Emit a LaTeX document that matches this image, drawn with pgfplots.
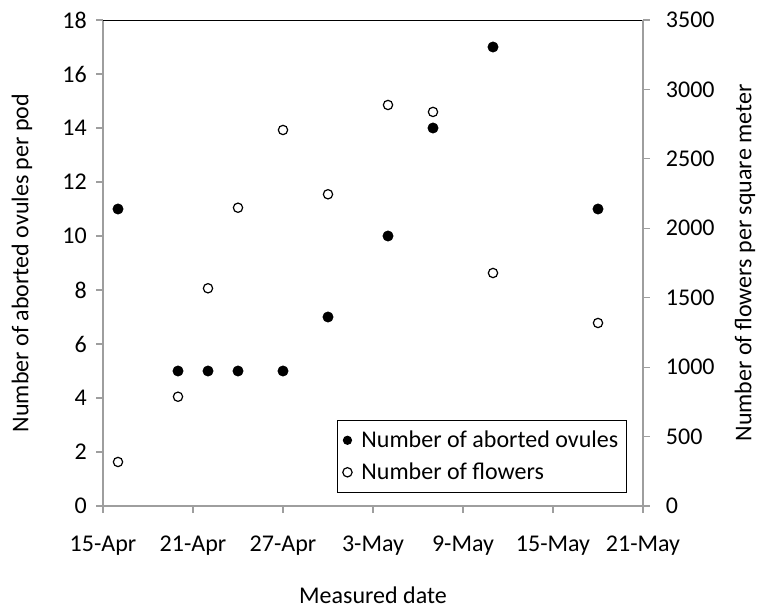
\documentclass[border=0pt]{standalone}
\usepackage{fontspec}
\setmainfont{Carlito}
\usepackage{pgfplots}
\pgfplotsset{compat=1.18}
\begin{document}
\begin{tikzpicture}
\useasboundingbox (-77.25pt,-76.5pt) rectangle (491.25pt,379.5pt);
\pgfplotsset{
  every axis/.append style={font=\fontsize{18}{21}\selectfont},
  /pgf/number format/assume math mode=true,
  /pgf/number format/1000 sep={},
}
\begin{axis}[
  scale only axis, width=405pt, height=364.5pt,
  at={(0,0)}, anchor=south west,
  xmin=0, xmax=36, ymin=0, ymax=18,
  axis x line*=bottom, axis y line*=left,
  axis line style={draw=black!38, line width=0.9pt, -},
  xtick={0,6,...,36},
  xticklabels={15-Apr,21-Apr,27-Apr,3-May,9-May,15-May,21-May},
  ytick={0,2,...,18},
  tick align=outside, major tick length=5pt,
  tick style={draw=black!38, line width=0.8pt},
  xticklabel style={anchor=north, inner sep=0pt},
  xticklabel shift=17pt,
  yticklabel style={anchor=east, inner sep=0pt},
  yticklabel shift=7pt,
  xlabel={Measured date},
  ylabel={Number of aborted ovules per pod},
  xlabel style={at={(axis description cs:0.5,-0.183)}, anchor=center},
  ylabel style={at={(axis description cs:-0.15,0.5)}, anchor=center},
]
\addplot[only marks, mark=*, black, mark size=3.9pt] coordinates {
  (1,11) (5,5) (7,5) (9,5) (12,5) (15,7) (19,10) (22,14) (26,17) (33,11)
};
\draw[black, line width=0.9pt] (rel axis cs:0,1) -- (rel axis cs:1,1);
\end{axis}
\begin{axis}[
  scale only axis, width=405pt, height=364.5pt,
  at={(0,0)}, anchor=south west,
  xmin=0, xmax=36, ymin=0, ymax=3500,
  axis x line=none, axis y line*=right,
  axis line style={draw=black!38, line width=0.9pt, -},
  ytick={0,500,...,3500},
  tick align=outside, major tick length=5pt,
  tick style={draw=black!38, line width=0.8pt},
  yticklabel style={anchor=west, inner sep=0pt},
  yticklabel shift=12pt,
  ylabel={Number of flowers per square meter},
  ylabel style={at={(axis description cs:1.189,0.5)}, anchor=center},
  legend style={at={(axis description cs:0.970,0.027)}, anchor=south east,
    draw=black, line width=0.9pt, inner xsep=4pt, inner ysep=6pt, row sep=6pt,
    font=\fontsize{18}{21}\selectfont},
  legend cell align=left,
]
\addlegendimage{only marks, mark=*, black, mark size=3pt}
\addlegendentry{\hspace{5pt}Number of aborted ovules}
\addplot[only marks, mark=o, black, mark size=3.5pt, line width=0.9pt] coordinates {
  (1,317) (5,787) (7,1568) (9,2148) (12,2708) (15,2245) (19,2888) (22,2838) (26,1678) (33,1318)
};
\addlegendentry{\hspace{5pt}Number of flowers}
\end{axis}
\end{tikzpicture}
\end{document}
